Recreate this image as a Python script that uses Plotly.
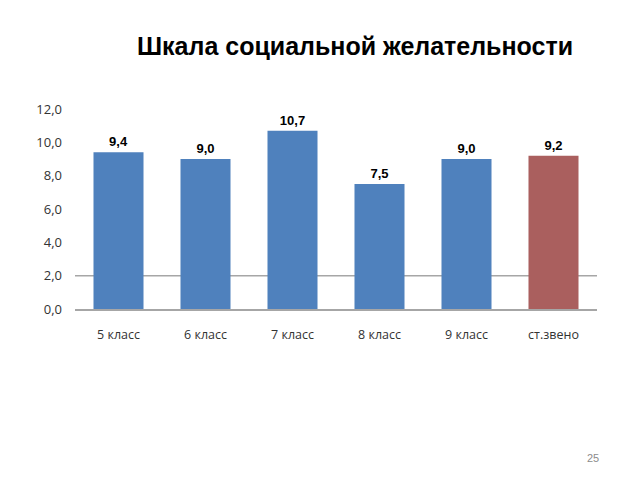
import plotly.graph_objects as go

categories = ["5 класс", "6 класс", "7 класс", "8 класс", "9 класс", "ст.звено"]
values = [9.4, 9.0, 10.7, 7.5, 9.0, 9.2]
colors = ["#4F81BD", "#4F81BD", "#4F81BD", "#4F81BD", "#4F81BD", "#AA5F5E"]
y_ticks = [0, 2, 4, 6, 8, 10, 12]
title = "Шкала социальной желательности"
page_no = "25"

fig = go.Figure()
fig.add_trace(go.Bar(
    x=categories, y=values,
    marker=dict(color=colors, line=dict(width=0)),
    width=0.575,
    text=[f"{v:.1f}".replace(".", ",") for v in values],
    textposition="outside",
    textfont=dict(family="Liberation Sans", size=13, color="#000000"),
    texttemplate="<b>%{text}</b>",
    cliponaxis=False,
))
fig.add_hline(y=2, line=dict(color="#A6A6A6", width=1.5), layer="below")

fig.update_layout(
    width=640, height=480,
    margin=dict(l=67, r=51, t=101, b=179),
    paper_bgcolor="white", plot_bgcolor="white",
    separators=",.",
    showlegend=False,
    title=dict(text="<b>" + title + "</b>", x=347/640, xanchor="center",
               y=1 - 38/480, yanchor="middle",
               font=dict(family="Liberation Sans", size=25, color="#000000")),
    xaxis=dict(showgrid=False, showline=True, linecolor="#A6A6A6", linewidth=1.5,
               ticks="", tickfont=dict(family="Open Sans", size=12.5, color="#333333"),
               ticklabelstandoff=13),
    yaxis=dict(range=[0, 12], tickvals=y_ticks, tickformat=".1f", showgrid=False,
               zeroline=False, showline=False, ticks="",
               tickfont=dict(family="Open Sans", size=13, color="#333333"),
               ticklabelstandoff=12),
    annotations=[dict(text=page_no, x=0.992, y=-0.745, xref="paper", yref="paper",
                      xanchor="center", yanchor="middle", showarrow=False,
                      font=dict(family="Liberation Sans", size=11, color="#8C8C8C"))],
)
fig.write_html("out.html")
